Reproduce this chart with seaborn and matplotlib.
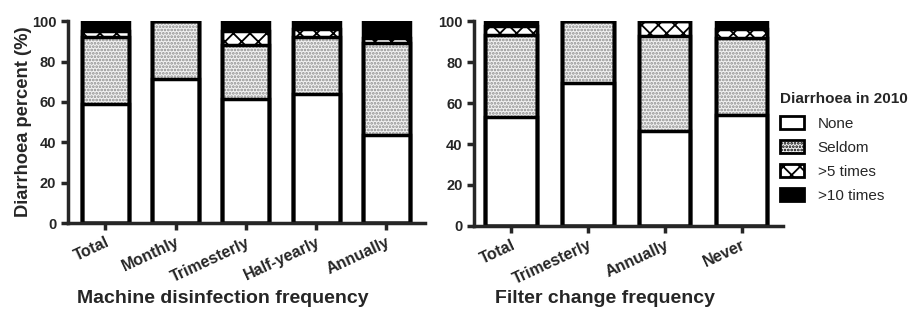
import pandas as pd
import seaborn as sns
import matplotlib.pyplot as plt
from matplotlib.patches import Patch

# Diarrhoea in 2010 (%) by category
levels = ['None', 'Seldom', '>5 times', '>10 times']

disinf_groups = ['Total', 'Monthly', 'Trimesterly', 'Half-yearly', 'Annually']
disinf_none = [59, 71.5, 61.5, 64, 43.5]
disinf_seldom = [33, 28.5, 26.5, 28, 45.5]
disinf_gt5 = [3, 0, 7, 4, 2.5]
disinf_gt10 = [5, 0, 5, 4, 8.5]

filter_groups = ['Total', 'Trimesterly', 'Annually', 'Never']
filter_none = [53, 70, 46.5, 54]
filter_seldom = [40, 30, 46, 38]
filter_gt5 = [4.5, 0, 7.5, 4]
filter_gt10 = [2.5, 0, 0, 4]

# face colour, hatch, hatch colour
styles = {
    'None': ('white', None, 'black'),
    'Seldom': ('#f2f2f2', '.....', '#8c8c8c'),
    '>5 times': ('white', 'xx', 'black'),
    '>10 times': ('black', None, 'black'),
}

sns.set_style('ticks')
plt.rcParams['font.family'] = ['Liberation Sans', 'DejaVu Sans']
plt.rcParams['hatch.linewidth'] = 1.3
plt.rcParams['axes.linewidth'] = 2.5


def stacked(ax, groups, cols, xlabel, ylabel, xlim, xlab_x, xlab_y):
    df = pd.DataFrame(dict(zip(levels, cols)), index=groups)
    cum = df.cumsum(axis=1)
    # fills: tallest cumulative segment first so each sits on top
    for lev in reversed(levels):
        fc, hatch, hc = styles[lev]
        sns.barplot(x=groups, y=cum[lev].values, ax=ax, color=fc,
                    hatch=hatch, edgecolor=hc, linewidth=0,
                    width=0.67, saturation=1, order=groups)
    # black outlines of every segment
    for lev in reversed(levels):
        sns.barplot(x=groups, y=cum[lev].values, ax=ax, color='black',
                    fill=False, linewidth=2.5, width=0.67, order=groups)
    ax.set_ylim(0, 100)
    ax.set_xlim(*xlim)
    ax.set_yticks(range(0, 101, 20))
    ax.tick_params(width=2.5, length=5)
    ax.tick_params(axis='y', labelsize=10.5)
    for t in ax.get_yticklabels():
        t.set_fontweight('bold')
    ax.set_xticks(range(len(groups)))
    ax.set_xticklabels(groups, rotation=25, ha='right', rotation_mode='anchor',
                       fontweight='bold', fontsize=11.5)
    ax.set_xlabel(xlabel, fontsize=14, fontweight='bold')
    ax.xaxis.set_label_coords(xlab_x, xlab_y)
    ax.set_ylabel(ylabel, fontsize=13.2, fontweight='bold', labelpad=0)
    sns.despine(ax=ax)


fig = plt.figure(figsize=(9.19, 3.2), dpi=100)
ax1 = fig.add_axes([0.074, 0.303, 0.3885, 0.631])
ax2 = fig.add_axes([0.516, 0.294, 0.336, 0.640])

stacked(ax1, disinf_groups, [disinf_none, disinf_seldom, disinf_gt5, disinf_gt10],
        'Machine disinfection frequency', 'Diarrhoea percent (%)', (-0.53, 4.55),
        0.433, -0.33)
stacked(ax2, filter_groups, [filter_none, filter_seldom, filter_gt5, filter_gt10],
        'Filter change frequency', '', (-0.48, 3.54), 0.422, -0.315)

handles = [Patch(facecolor=styles[l][0], hatch=styles[l][1],
                 edgecolor='black', linewidth=2) for l in levels]
leg = fig.legend(handles, levels, title='Diarrhoea in 2010', loc='upper left',
                 bbox_to_anchor=(0.840, 0.735), frameon=False, fontsize=11,
                 handlelength=1.6, handleheight=0.9, handletextpad=0.9,
                 labelspacing=0.62, alignment='left', borderpad=0)
leg.get_title().set_fontweight('bold')
leg.get_title().set_fontsize(11)

fig.savefig('out.png', dpi=100)
